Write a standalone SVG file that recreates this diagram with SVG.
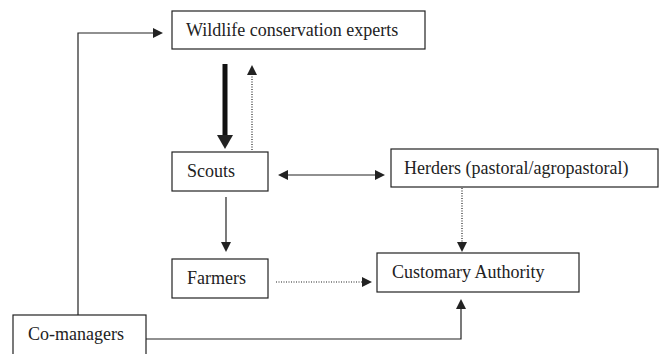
<svg xmlns="http://www.w3.org/2000/svg" width="662" height="354" viewBox="0 0 662 354">
<style>
.box{fill:#fff;stroke:#222;stroke-width:1.2}
.t{font-family:'Liberation Serif','Times New Roman',serif;font-size:18px;fill:#222}
.c{fill:none;stroke:#222;stroke-width:1.2}
.d{fill:none;stroke:#222;stroke-width:1.2;stroke-dasharray:1 1.5}
.h{fill:#222}
</style>
<rect width="662" height="354" fill="#fff"/>
<g id="wildlife"><rect class="box" x="172" y="11" width="253" height="38"/><text class="t" x="186" y="36">Wildlife conservation experts</text></g>
<g id="scouts"><rect class="box" x="172" y="152" width="96" height="39"/><text class="t" x="187" y="177">Scouts</text></g>
<g id="herders"><rect class="box" x="391" y="149" width="267" height="38"/><text class="t" x="404" y="174">Herders (pastoral/agropastoral)</text></g>
<g id="farmers"><rect class="box" x="172" y="259" width="96" height="39"/><text class="t" x="187" y="284">Farmers</text></g>
<g id="customary"><rect class="box" x="377" y="253" width="202" height="39"/><text class="t" x="392" y="278">Customary Authority</text></g>
<g id="comanagers"><rect class="box" x="13" y="315" width="133" height="45"/><text class="t" x="28" y="340">Co-managers</text></g>
<g id="connectors">
<path class="c" d="M78 315V33H153"/><path class="h" d="M163 33l-10 -5v10z"/>
<path fill="none" stroke="#111" stroke-width="5" d="M225 64V136"/><path class="h" d="M225 149l-8 -14h16z"/>
<path class="d" d="M252 150V76"/><path class="h" d="M252 65l-5 10h10z"/>
<path class="c" d="M288 175H375"/><path class="h" d="M278 175l10 -5v10z"/><path class="h" d="M385 175l-10 -5v10z"/>
<path class="c" d="M226 197V242"/><path class="h" d="M226 252l-5 -10h10z"/>
<path class="d" d="M462 188V242"/><path class="h" d="M462 252l-5 -10h10z"/>
<path class="d" d="M276 282H362"/><path class="h" d="M372 282l-10 -5v10z"/>
<path class="c" d="M146 339H461V309"/><path class="h" d="M461 299l-5 10h10z"/>
</g>
</svg>
